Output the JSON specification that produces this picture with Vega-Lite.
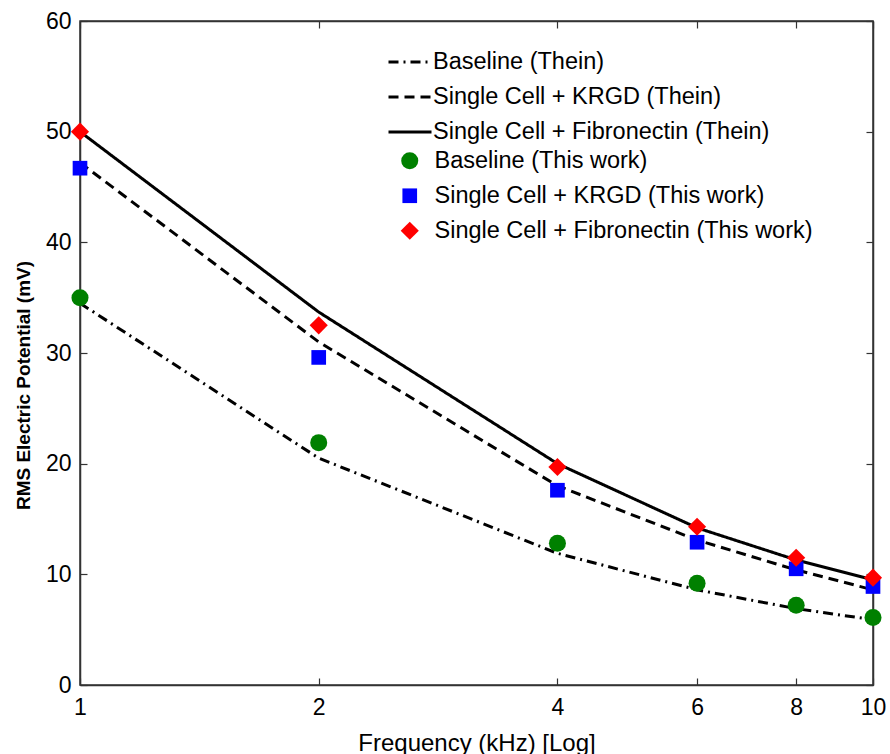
{
  "$schema": "https://vega.github.io/schema/vega-lite/v6.json",
  "width": 793,
  "height": 664,
  "autosize": {"type": "none"},
  "padding": {"left": 80, "top": 21, "right": 17, "bottom": 69},
  "background": "white",
  "config": {
    "font": "Liberation Sans",
    "view": {"stroke": "#333333", "strokeWidth": 1.5},
    "axis": {
      "grid": false,
      "domainColor": "#333333",
      "domainWidth": 1.5,
      "tickColor": "#333333",
      "tickWidth": 1.2,
      "tickSize": -7,
      "labelColor": "black",
      "labelFont": "Liberation Sans",
      "labelFontSize": 23,
      "titleColor": "black"
    },
    "legend": {"padding": 0, "labelFont": "Liberation Sans", "labelFontSize": 23.5, "labelColor": "black", "labelLimit": 0}
  },
  "datasets": {
    "thein": [
      {"f": 1, "series": "Baseline (Thein)", "v": 34.5},
      {"f": 2, "series": "Baseline (Thein)", "v": 20.5},
      {"f": 4, "series": "Baseline (Thein)", "v": 11.9},
      {"f": 6, "series": "Baseline (Thein)", "v": 8.6},
      {"f": 8, "series": "Baseline (Thein)", "v": 6.9},
      {"f": 10, "series": "Baseline (Thein)", "v": 5.9},
      {"f": 1, "series": "Single Cell + KRGD (Thein)", "v": 47.2},
      {"f": 2, "series": "Single Cell + KRGD (Thein)", "v": 31.0},
      {"f": 4, "series": "Single Cell + KRGD (Thein)", "v": 18.0},
      {"f": 6, "series": "Single Cell + KRGD (Thein)", "v": 13.1},
      {"f": 8, "series": "Single Cell + KRGD (Thein)", "v": 10.4},
      {"f": 10, "series": "Single Cell + KRGD (Thein)", "v": 8.6},
      {"f": 1, "series": "Single Cell + Fibronectin (Thein)", "v": 50.0},
      {"f": 2, "series": "Single Cell + Fibronectin (Thein)", "v": 33.7},
      {"f": 4, "series": "Single Cell + Fibronectin (Thein)", "v": 20.0},
      {"f": 6, "series": "Single Cell + Fibronectin (Thein)", "v": 14.2},
      {"f": 8, "series": "Single Cell + Fibronectin (Thein)", "v": 11.3},
      {"f": 10, "series": "Single Cell + Fibronectin (Thein)", "v": 9.5}
    ],
    "work": [
      {"f": 1, "series": "Baseline (This work)", "v": 35.0},
      {"f": 2, "series": "Baseline (This work)", "v": 21.9},
      {"f": 4, "series": "Baseline (This work)", "v": 12.8},
      {"f": 6, "series": "Baseline (This work)", "v": 9.2},
      {"f": 8, "series": "Baseline (This work)", "v": 7.2},
      {"f": 10, "series": "Baseline (This work)", "v": 6.1},
      {"f": 1, "series": "Single Cell + KRGD (This work)", "v": 46.7},
      {"f": 2, "series": "Single Cell + KRGD (This work)", "v": 29.6},
      {"f": 4, "series": "Single Cell + KRGD (This work)", "v": 17.6},
      {"f": 6, "series": "Single Cell + KRGD (This work)", "v": 12.9},
      {"f": 8, "series": "Single Cell + KRGD (This work)", "v": 10.5},
      {"f": 10, "series": "Single Cell + KRGD (This work)", "v": 8.9},
      {"f": 1, "series": "Single Cell + Fibronectin (This work)", "v": 50.0},
      {"f": 2, "series": "Single Cell + Fibronectin (This work)", "v": 32.5},
      {"f": 4, "series": "Single Cell + Fibronectin (This work)", "v": 19.7},
      {"f": 6, "series": "Single Cell + Fibronectin (This work)", "v": 14.3},
      {"f": 8, "series": "Single Cell + Fibronectin (This work)", "v": 11.5},
      {"f": 10, "series": "Single Cell + Fibronectin (This work)", "v": 9.7}
    ]
  },
  "layer": [
    {
      "data": {"name": "thein"},
      "mark": {"type": "line", "color": "black", "strokeWidth": 3},
      "encoding": {
        "x": {
          "field": "f", "type": "quantitative",
          "scale": {"type": "log", "domain": [1, 10], "nice": false},
          "axis": {"orient": "bottom", "values": [1, 2, 4, 6, 8, 10], "format": "d", "labelPadding": 18, "labelFlush": false,
                   "title": "Frequency (kHz) [Log]", "titleFontSize": 24, "titleFontWeight": "normal", "titlePadding": 12}
        },
        "y": {
          "field": "v", "type": "quantitative",
          "scale": {"domain": [0, 60], "nice": false},
          "axis": {"orient": "left", "values": [0, 10, 20, 30, 40, 50, 60], "labelPadding": 16,
                   "title": "RMS Electric Potential (mV)", "titleFontSize": 19, "titleFontWeight": "bold", "titlePadding": 12, "titleY": 364}
        },
        "strokeDash": {
          "field": "series", "type": "nominal",
          "scale": {
            "domain": ["Baseline (Thein)", "Single Cell + KRGD (Thein)", "Single Cell + Fibronectin (Thein)"],
            "range": [[10, 5, 2, 5], [10, 6], [1, 0]]
          },
          "legend": {
            "title": null, "orient": "none", "legendX": 307, "legendY": 18,
            "symbolType": "stroke", "symbolSize": 1849, "symbolStrokeWidth": 3, "symbolStrokeColor": "black",
            "labelOffset": 0, "rowPadding": -13
          }
        }
      }
    },
    {
      "data": {"name": "work"},
      "mark": {"type": "point", "filled": true, "opacity": 1, "strokeWidth": 0},
      "encoding": {
        "x": {
          "field": "f", "type": "quantitative",
          "scale": {"type": "log", "domain": [1, 10], "nice": false},
          "axis": {"orient": "top", "values": [1, 2, 4, 6, 8, 10], "labels": false, "title": null}
        },
        "y": {
          "field": "v", "type": "quantitative",
          "scale": {"domain": [0, 60], "nice": false},
          "axis": {"orient": "right", "values": [0, 10, 20, 30, 40, 50, 60], "labels": false, "title": null}
        },
        "color": {
          "field": "series", "type": "nominal",
          "scale": {
            "domain": ["Baseline (This work)", "Single Cell + KRGD (This work)", "Single Cell + Fibronectin (This work)"],
            "range": ["#008000", "#0000ff", "#ff0000"]
          },
          "legend": {
            "title": null, "orient": "none", "legendX": 318, "legendY": 128,
            "symbolSize": 256, "symbolStrokeWidth": 0, "symbolOpacity": 1,
            "labelOffset": 13, "rowPadding": 10,
            "encode": {"symbols": {"update": {"size": {"signal": "datum.value === 'Single Cell + Fibronectin (This work)' ? 330 : datum.value === 'Single Cell + KRGD (This work)' ? 180 : 300"}}}}
          }
        },
        "shape": {
          "field": "series", "type": "nominal",
          "scale": {
            "domain": ["Baseline (This work)", "Single Cell + KRGD (This work)", "Single Cell + Fibronectin (This work)"],
            "range": ["circle", "square", "diamond"]
          }
        },
        "size": {
          "field": "series", "type": "ordinal",
          "scale": {
            "type": "ordinal",
            "domain": ["Baseline (This work)", "Single Cell + KRGD (This work)", "Single Cell + Fibronectin (This work)"],
            "range": [290, 215, 330]
          },
          "legend": null
        }
      }
    }
  ],
  "resolve": {"axis": {"x": "independent", "y": "independent"}}
}
